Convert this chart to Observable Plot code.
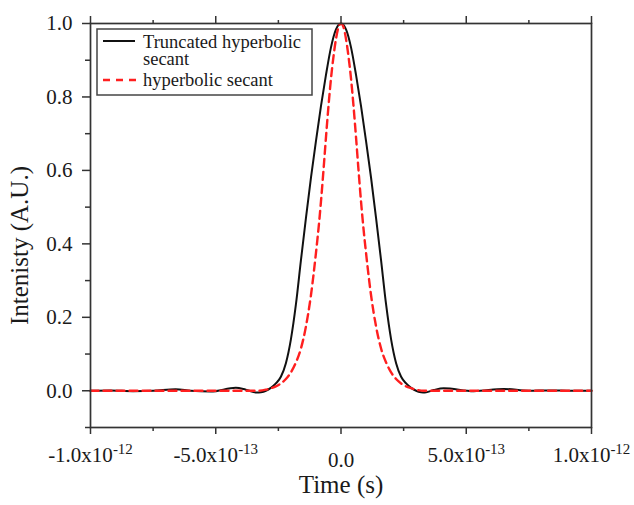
<!DOCTYPE html>
<html>
<head>
<meta charset="utf-8">
<script src="https://cdn.jsdelivr.net/npm/d3@7"></script>
<script src="https://cdn.jsdelivr.net/npm/@observablehq/plot@0.6"></script>
<style>
  body { margin: 0; background: #fff; }
  #wrap { position: relative; width: 634px; height: 505px; }
  #wrap svg text { font-family: "Liberation Serif", "Times New Roman", serif !important; }
  #legend { position: absolute; left: 96px; top: 28px; }
</style>
</head>
<body>
<div id="wrap"></div>
<script>
// ---- Data (time in seconds, intensity in A.U.) ----
const blackTime = [
  -10e-13, -9.2e-13, -8.3e-13, -7.5e-13, -6.6e-13, -6.0e-13, -5.2e-13, -4.2e-13, -3.8e-13,
  -3.35e-13, -3.2e-13, -3.0e-13, -2.8e-13, -2.6e-13, -2.4e-13, -2.2e-13, -2.0e-13,
  -1.8e-13, -1.6e-13, -1.4e-13, -1.2e-13, -1.0e-13, -0.8e-13, -0.6e-13, -0.4e-13,
  -0.2e-13, 0,
  0.2e-13, 0.4e-13, 0.6e-13, 0.8e-13, 1.0e-13, 1.2e-13, 1.4e-13, 1.6e-13, 1.8e-13,
  2.0e-13, 2.2e-13, 2.4e-13, 2.6e-13, 2.8e-13, 3.0e-13, 3.2e-13, 3.35e-13, 3.7e-13,
  4.1e-13, 5.3e-13, 6.5e-13, 7.5e-13, 8.3e-13, 9.2e-13, 10e-13
];
const blackIntensity = [
  0.000, 0.001, -0.001, 0.000, 0.004, 0.000, -0.002, 0.008, 0.003,
  -0.005, -0.004, 0.000, 0.008, 0.020, 0.038, 0.075, 0.140,
  0.235, 0.355, 0.470, 0.580, 0.680, 0.775, 0.860, 0.935,
  0.984, 1.000,
  0.984, 0.935, 0.860, 0.775, 0.680, 0.580, 0.470, 0.355, 0.235,
  0.140, 0.075, 0.038, 0.020, 0.008, 0.000, -0.004, -0.005, 0.002,
  0.007, -0.001, 0.005, 0.000, 0.001, 0.000, 0.000
];
const redTime = [
  -10e-13, -5e-13, -3.3e-13, -3.0e-13, -2.8e-13, -2.6e-13, -2.4e-13, -2.2e-13, -2.0e-13,
  -1.8e-13, -1.6e-13, -1.4e-13, -1.2e-13, -1.0e-13, -0.9e-13, -0.8e-13, -0.7e-13, -0.6e-13,
  -0.5e-13, -0.4e-13, -0.3e-13, -0.2e-13, -0.1e-13, 0,
  0.1e-13, 0.2e-13, 0.3e-13, 0.4e-13, 0.5e-13, 0.6e-13, 0.7e-13, 0.8e-13, 0.9e-13, 1.0e-13,
  1.2e-13, 1.4e-13, 1.6e-13, 1.8e-13, 2.0e-13, 2.2e-13, 2.4e-13, 2.6e-13, 2.8e-13, 3.0e-13,
  3.3e-13, 5e-13, 10e-13
];
const redIntensity = [
  0.000, 0.000, 0.000, 0.003, 0.007, 0.012, 0.020, 0.032, 0.050,
  0.077, 0.115, 0.175, 0.260, 0.375, 0.440, 0.515, 0.600, 0.690,
  0.775, 0.850, 0.910, 0.958, 0.990, 1.000,
  0.990, 0.958, 0.910, 0.850, 0.775, 0.690, 0.600, 0.515, 0.440, 0.375,
  0.260, 0.175, 0.115, 0.077, 0.050, 0.032, 0.020, 0.012, 0.007, 0.003,
  0.000, 0.000, 0.000
];
const seriesNames = ["Truncated hyperbolic secant", "hyperbolic secant"];
const xMajor = [-1e-12, -5e-13, 0, 5e-13, 1e-12];
const xMinor = [-7.5e-13, -2.5e-13, 2.5e-13, 7.5e-13];
const xTickLabels = ["-1.0x10|-12", "-5.0x10|-13", "0.0", "5.0x10|-13", "1.0x10|-12"];
const yMajor = [0, 0.2, 0.4, 0.6, 0.8, 1.0];
const yMinor = [-0.1, 0.1, 0.3, 0.5, 0.7, 0.9];
const yTickLabels = ["0.0", "0.2", "0.4", "0.6", "0.8", "1.0"];
const xTitle = "Time (s)";
const yTitle = "Intenisty (A.U.)";

const blackData = blackTime.map((t, i) => ({t, v: blackIntensity[i]}));
const redData = redTime.map((t, i) => ({t, v: redIntensity[i]}));

const serif = '"Liberation Serif", "Times New Roman", serif';
const axisColor = "#333";
const chart = Plot.plot({
  width: 634,
  height: 505,
  marginLeft: 90,
  marginRight: 43,
  marginTop: 23,
  marginBottom: 78,
  x: {domain: [-1e-12, 1e-12], label: null},
  y: {domain: [-0.1, 1.0], label: null},
  style: {fontFamily: serif, fontSize: "21px", color: "#1a1a1a", background: "#fff", overflow: "visible"},
  marks: [
    Plot.line(blackData, {x: "t", y: "v", stroke: "#111", strokeWidth: 2, curve: "monotone-x"}),
    Plot.line(redData, {x: "t", y: "v", stroke: "#ff1f1f", strokeWidth: 2.4, strokeDasharray: "8,5", curve: "monotone-x"}),
    Plot.frame({stroke: axisColor, strokeWidth: 1.7}),
    Plot.axisX(xMajor, {tickSize: 7, tickPadding: 18, strokeWidth: 1.5, stroke: axisColor, fontSize: 21, fontFamily: serif,
      tickFormat: d => xTickLabels[xMajor.indexOf(d)]}),
    Plot.axisX(xMinor, {tickSize: 4, strokeWidth: 1.5, stroke: axisColor, tickFormat: () => ""}),
    Plot.axisX(xMajor, {anchor: "top", tickSize: 8, strokeWidth: 1.5, stroke: axisColor, tickFormat: () => ""}),
    Plot.axisX(xMinor, {anchor: "top", tickSize: 4, strokeWidth: 1.5, stroke: axisColor, tickFormat: () => ""}),
    Plot.axisY(yMajor, {tickSize: 8, tickPadding: 10, strokeWidth: 1.5, stroke: axisColor, fontSize: 21, fontFamily: serif,
      tickFormat: d => yTickLabels[yMajor.indexOf(d)]}),
    Plot.axisY(yMinor, {tickSize: 5, strokeWidth: 1.5, stroke: axisColor, tickFormat: () => ""}),
    Plot.text([xTitle], {frameAnchor: "bottom", dy: 65, fontSize: 25, fontFamily: serif, fill: "#1a1a1a"}),
    Plot.text([yTitle], {frameAnchor: "left", textAnchor: "middle", rotate: -90, dx: -71, dy: 20, fontSize: 25, fontFamily: serif, fill: "#1a1a1a"})
  ]
});

// superscript exponents on x tick labels
const ns = "http://www.w3.org/2000/svg";
chart.querySelectorAll("text").forEach(t => {
  const s = t.textContent;
  if (s.includes("|")) {
    const [base, sup] = s.split("|");
    t.textContent = "";
    const a = document.createElementNS(ns, "tspan");
    a.setAttribute("dy", "-5");
    a.textContent = base;
    const b = document.createElementNS(ns, "tspan");
    b.setAttribute("dy", "-8");
    b.setAttribute("font-size", "15");
    b.textContent = sup;
    t.appendChild(a);
    t.appendChild(b);
  }
});

const wrap = document.getElementById("wrap");
wrap.appendChild(chart);

// legend (inside the plot area, top-left)
const lg = d3.create("svg").attr("id", "legend").attr("width", 219).attr("height", 70)
  .style("font-family", serif).style("font-size", "18.5px");
lg.append("rect").attr("x", 1).attr("y", 1).attr("width", 215).attr("height", 66)
  .attr("fill", "#fff").attr("stroke", "#444").attr("stroke-width", 1.5);
lg.append("line").attr("x1", 7).attr("x2", 39).attr("y1", 13).attr("y2", 13)
  .attr("stroke", "#111").attr("stroke-width", 2);
const t1 = lg.append("text").attr("x", 47).attr("y", 20).attr("fill", "#1a1a1a");
const words = seriesNames[0].split(" ");
t1.append("tspan").attr("x", 47).text(words.slice(0, 2).join(" "));
t1.append("tspan").attr("x", 47).attr("dy", 17).text(words.slice(2).join(" "));
lg.append("line").attr("x1", 7).attr("x2", 40).attr("y1", 52).attr("y2", 52)
  .attr("stroke", "#ff1f1f").attr("stroke-width", 2.4).attr("stroke-dasharray", "7,6");
lg.append("text").attr("x", 47).attr("y", 58).attr("fill", "#1a1a1a").text(seriesNames[1]);
wrap.appendChild(lg.node());
</script>
</body>
</html>
